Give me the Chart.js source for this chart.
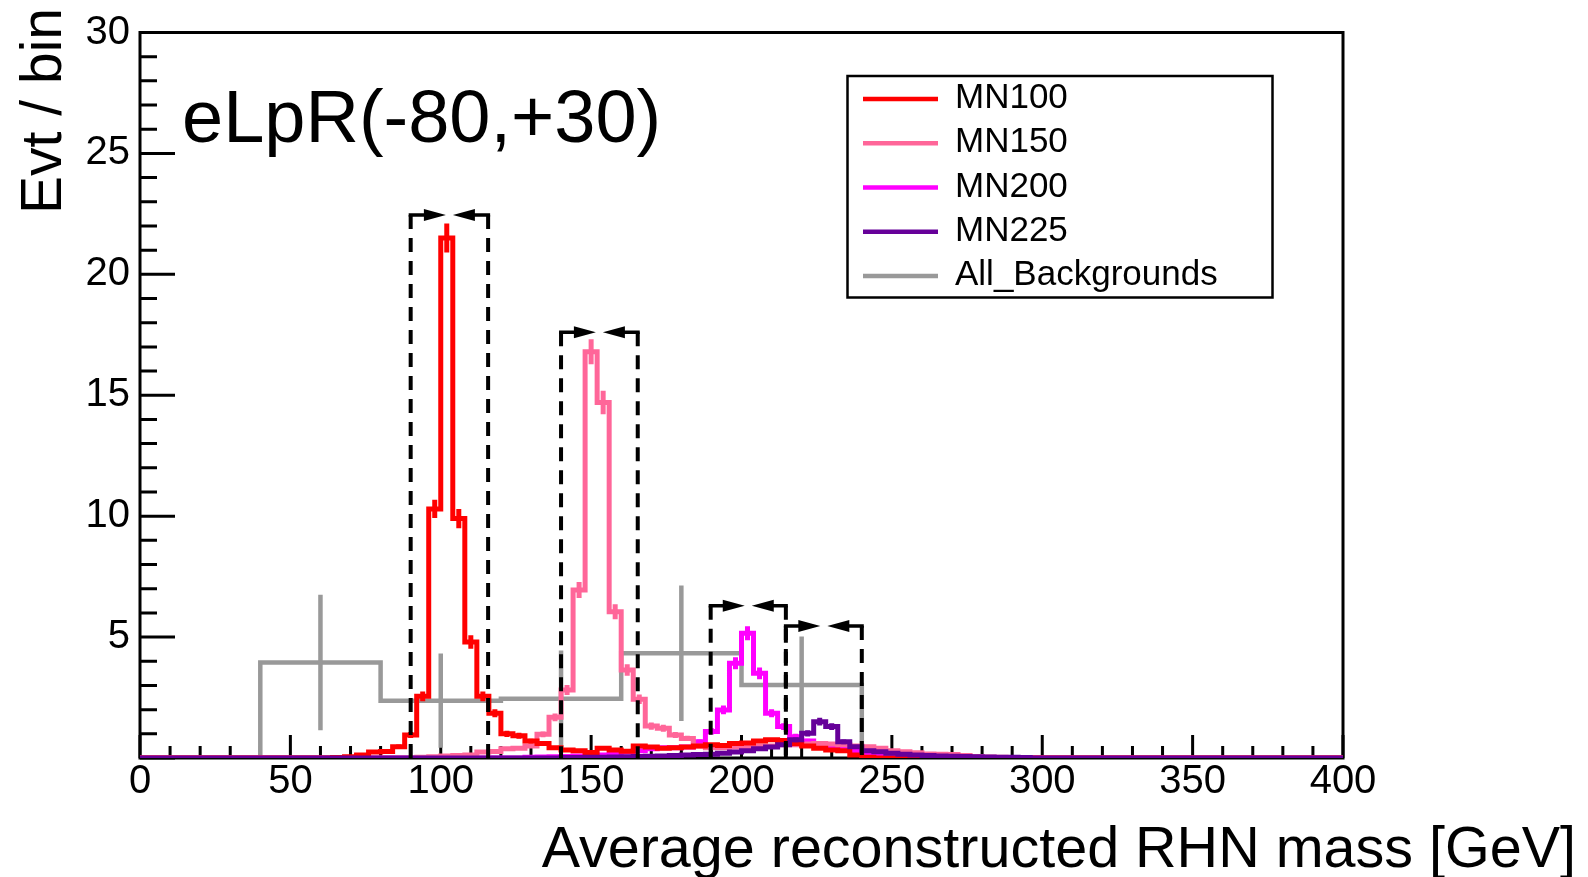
<!DOCTYPE html>
<html>
<head>
<meta charset="utf-8">
<script src="https://cdn.jsdelivr.net/npm/chart.js@4.4.1/dist/chart.umd.min.js"></script>
<style>
html,body{margin:0;padding:0;background:#fff;}
canvas{display:block;}
</style>
</head>
<body>
<canvas id="c" width="1588" height="877"></canvas>
<script>
// ---------------- DATA ----------------
const binWidth = 4;            // GeV, 100 bins over [0,400]
const xMin = 0, xMax = 400;
const yMin = 0, yMax = 30;
const xTickLabels = [0, 50, 100, 150, 200, 250, 300, 350, 400];
const yTickLabels = [5, 10, 15, 20, 25, 30];

const seriesNames = ["MN100", "MN150", "MN200", "MN225", "All_Backgrounds"];

// Events per 4 GeV bin (bin i covers [4i, 4i+4])
const mn100 = [
  0,0,0,0,0,0,0,0,0,0,
  0,0,0,0,0,0,0.02,0.05,0.12,0.25,
  0.27,0.47,0.95,2.55,10.3,21.5,9.9,4.8,2.55,1.85,
  1.0,0.92,0.7,0.6,0.42,0.33,0.3,0.23,0.4,0.33,
  0.28,0.5,0.45,0.4,0.42,0.45,0.5,0.55,0.52,0.6,
  0.62,0.7,0.75,0.72,0.6,0.5,0.4,0.33,0.3,0.12,
  0.03,0,0,0,0,0,0,0,0,0,
  0,0,0,0,0,0,0,0,0,0,
  0,0,0,0,0,0,0,0,0,0,
  0,0,0,0,0,0,0,0,0,0
];
const mn150 = [
  0,0,0,0,0,0,0,0,0,0,
  0,0,0,0,0,0,0,0,0,0,
  0,0,0,0.03,0.05,0.08,0.1,0.12,0.25,0.27,
  0.38,0.4,0.5,0.98,1.68,2.81,6.95,16.8,14.7,6.05,
  3.64,2.43,1.32,1.23,0.95,0.81,0.5,0.42,0.42,0.45,
  0.45,0.5,0.5,0.55,0.55,0.58,0.6,0.58,0.55,0.5,
  0.47,0.4,0.3,0.26,0.22,0.17,0.15,0.14,0.1,0.06,
  0.04,0.03,0.02,0,0,0,0,0,0,0,
  0,0,0,0,0,0,0,0,0,0,
  0,0,0,0,0,0,0,0,0,0
];
const mn200 = [
  0,0,0,0,0,0,0,0,0,0,
  0,0,0,0,0,0,0,0,0,0,
  0,0,0,0,0,0,0,0,0,0,
  0,0,0.03,0.04,0.05,0.06,0.08,0.1,0.12,0.15,
  0.25,0.3,0.38,0.42,0.42,0.45,0.67,1.1,1.99,3.92,
  5.16,3.5,1.85,1.3,0.88,0.7,0.55,0.45,0.38,0.3,
  0.15,0.08,0.05,0.02,0,0,0,0,0,0,
  0,0,0,0,0,0,0,0,0,0,
  0,0,0,0,0,0,0,0,0,0,
  0,0,0,0,0,0,0,0,0,0
];
const mn225 = [
  0,0,0,0,0,0,0,0,0,0,
  0,0,0,0,0,0,0,0,0,0,
  0,0,0,0,0,0,0,0,0,0,
  0,0,0,0,0,0.02,0.02,0.03,0.03,0.04,
  0.05,0.06,0.07,0.08,0.1,0.12,0.14,0.16,0.2,0.25,
  0.3,0.38,0.45,0.55,0.75,1.02,1.5,1.3,0.67,0.47,
  0.3,0.26,0.2,0.15,0.12,0.1,0.08,0.07,0.06,0.05,
  0.04,0.03,0.03,0.02,0,0,0,0,0,0,
  0,0,0,0,0,0,0,0,0,0,
  0,0,0,0,0,0,0,0,0,0
];

// Statistical error bars of the signal bins (first bin index + values)
const mn100ErrStart = 21;
const mn100Err = [0.09,0.12,0.2,0.38,0.6,0.4,0.28,0.2,0.17,0.13,0.12,0.1,0.1];
const mn150ErrStart = 32;
const mn150Err = [0.09,0.12,0.16,0.21,0.33,0.52,0.49,0.31,0.24,0.2,0.15,0.14,0.12,0.11];
const mn200ErrStart = 46;
const mn200Err = [0.1,0.13,0.18,0.25,0.29,0.24,0.17,0.14,0.12,0.1];
const mn225ErrStart = 54;
const mn225Err = [0.1,0.13,0.16,0.14,0.1];

// Background: variable bins
const bgEdges  = [0, 40, 80, 120, 160, 200, 240, 400];
const bgValues = [0, 3.95, 2.37, 2.45, 4.33, 3.02, 0];
const bgErrors = [0, 2.8, 1.95, 2.0, 2.8, 2.0, 0];

// Mass-window cuts (dashed boxes with arrows)
const cutLow  = [90, 140, 189.75, 214.75];
const cutHigh = [115.75, 165.5, 214.75, 240];
const cutTop  = [22.45, 17.6, 6.3, 5.46];

const labelText = "eLpR(-80,+30)";
const xTitle = "Average reconstructed RHN mass [GeV]";
const yTitle = "Evt / bin";

// ---------------- STYLE ----------------
const FONT = '"Liberation Sans", Arial, Helvetica, sans-serif';
const colors = ["#ff0000", "#ff6699", "#ff00ff", "#660099", "#999999"];
const widths = [5, 5, 5, 5, 4.5];

// ---------------- BUILD ----------------
const uniformEdges = [];
for (let i = 0; i <= mn100.length; i++) uniformEdges.push(xMin + i * binWidth);

function histPoints(edges, values) {
  const pts = values.map((v, i) => ({x: edges[i], y: v}));
  pts.push({x: edges[edges.length - 1], y: values[values.length - 1]});
  return pts;
}
function errList(edges, values, start, errs) {
  const out = [];
  errs.forEach((e, k) => {
    const i = start + k;
    out.push({x: (edges[i] + edges[i + 1]) / 2, y: values[i], e: e});
  });
  return out;
}
const bgErrList = [];
bgValues.forEach((v, i) => { if (bgErrors[i] > 0) bgErrList.push({x: (bgEdges[i] + bgEdges[i+1]) / 2, y: v, e: bgErrors[i]}); });

const errorBars = [
  errList(uniformEdges, mn100, mn100ErrStart, mn100Err),
  errList(uniformEdges, mn150, mn150ErrStart, mn150Err),
  errList(uniformEdges, mn200, mn200ErrStart, mn200Err),
  errList(uniformEdges, mn225, mn225ErrStart, mn225Err),
  bgErrList
];

const seriesData = [
  histPoints(uniformEdges, mn100),
  histPoints(uniformEdges, mn150),
  histPoints(uniformEdges, mn200),
  histPoints(uniformEdges, mn225),
  histPoints(bgEdges, bgValues)
];
// draw order: background first, MN225 last (on top)
const drawOrder = [2, 3, 4, 1, 5];

const datasets = seriesNames.map((name, i) => ({
  label: name,
  data: seriesData[i],
  borderColor: colors[i],
  borderWidth: widths[i],
  stepped: 'before',
  pointRadius: 0,
  pointHoverRadius: 0,
  fill: false,
  tension: 0,
  borderJoinStyle: 'miter',
  borderCapStyle: 'butt',
  order: drawOrder[i]
}));

const rootPlugin = {
  id: 'rootStyle',
  beforeDatasetsDraw(chart) {
    const {ctx, chartArea: a, scales: {x, y}} = chart;
    ctx.save();
    ctx.strokeStyle = '#000';
    ctx.lineWidth = 3;
    ctx.strokeRect(a.left, a.top, a.right - a.left, a.bottom - a.top);
    ctx.lineWidth = 3;
    ctx.beginPath();
    for (let v = xMin; v <= xMax; v += 10) {
      const px = x.getPixelForValue(v);
      const len = (v % 50 === 0) ? 23 : 12;
      ctx.moveTo(px, a.bottom); ctx.lineTo(px, a.bottom - len);
    }
    for (let v = yMin; v <= yMax; v += 1) {
      const py = y.getPixelForValue(v);
      const len = (v % 5 === 0) ? 35 : 17;
      ctx.moveTo(a.left, py); ctx.lineTo(a.left + len, py);
    }
    ctx.stroke();
    ctx.restore();
  },
  afterDatasetDraw(chart, args) {
    const i = args.index;
    const bars = errorBars[i];
    if (!bars || !bars.length) return;
    const {ctx, chartArea: a, scales: {x, y}} = chart;
    ctx.save();
    ctx.beginPath();
    ctx.rect(a.left, a.top, a.right - a.left, a.bottom - a.top + 2);
    ctx.clip();
    ctx.strokeStyle = colors[i];
    ctx.lineWidth = widths[i];
    ctx.lineCap = 'butt';
    ctx.beginPath();
    bars.forEach(b => {
      const px = x.getPixelForValue(b.x);
      ctx.moveTo(px, y.getPixelForValue(Math.max(0, b.y - b.e)));
      ctx.lineTo(px, y.getPixelForValue(b.y + b.e));
    });
    ctx.stroke();
    ctx.restore();
  },
  afterDatasetsDraw(chart) {
    const {ctx, scales: {x, y}} = chart;
    ctx.save();
    ctx.strokeStyle = '#000';
    ctx.fillStyle = '#000';
    cutLow.forEach((lo, k) => {
      const x1 = x.getPixelForValue(lo), x2 = x.getPixelForValue(cutHigh[k]);
      const yt = y.getPixelForValue(cutTop[k]), yb = y.getPixelForValue(0);
      ctx.lineWidth = 4;
      ctx.setLineDash([14, 9]);
      ctx.beginPath();
      ctx.moveTo(x1, yt); ctx.lineTo(x1, yb);
      ctx.moveTo(x2, yt); ctx.lineTo(x2, yb);
      ctx.stroke();
      ctx.setLineDash([]);
      const xc = (x1 + x2) / 2, gap = 3.5, head = 22, hw = 6;
      const tipL = xc - gap, tipR = xc + gap;
      ctx.lineWidth = 3.5;
      ctx.beginPath();
      ctx.moveTo(x1 - 2, yt); ctx.lineTo(tipL - head + 2, yt);
      ctx.moveTo(x2 + 2, yt); ctx.lineTo(tipR + head - 2, yt);
      ctx.stroke();
      ctx.beginPath();
      ctx.moveTo(tipL, yt); ctx.lineTo(tipL - head, yt - hw); ctx.lineTo(tipL - head, yt + hw); ctx.closePath();
      ctx.moveTo(tipR, yt); ctx.lineTo(tipR + head, yt - hw); ctx.lineTo(tipR + head, yt + hw); ctx.closePath();
      ctx.fill();
    });
    ctx.restore();
  },
  afterDraw(chart) {
    const {ctx} = chart;
    ctx.save();
    // Legend box
    const lx = 847.5, ly = 76, lw = 425, lh = 221.5;
    ctx.fillStyle = '#fff';
    ctx.fillRect(lx, ly, lw, lh);
    ctx.strokeStyle = '#000';
    ctx.lineWidth = 2.5;
    ctx.strokeRect(lx, ly, lw, lh);
    ctx.font = '35px ' + FONT;
    ctx.textAlign = 'left';
    ctx.textBaseline = 'alphabetic';
    seriesNames.forEach((name, i) => {
      const yy = 99 + i * 44.25;
      ctx.strokeStyle = colors[i];
      ctx.lineWidth = 4.5;
      ctx.beginPath();
      ctx.moveTo(863, yy); ctx.lineTo(938, yy);
      ctx.stroke();
      ctx.fillStyle = '#000';
      ctx.fillText(name, 955, yy + 9);
    });
    // Label
    ctx.fillStyle = '#000';
    ctx.font = '74px ' + FONT;
    ctx.fillText(labelText, 182, 142);
    // X title
    ctx.font = '57.5px ' + FONT;
    ctx.textAlign = 'right';
    ctx.fillText(xTitle, 1576, 867);
    // Y title
    ctx.save();
    ctx.translate(61, 8);
    ctx.rotate(-Math.PI / 2);
    ctx.font = '57px ' + FONT;
    ctx.textAlign = 'right';
    ctx.fillText(yTitle, 0, 0);
    ctx.restore();
    ctx.restore();
  }
};

Chart.defaults.font.family = FONT;
Chart.defaults.color = '#000';

new Chart(document.getElementById('c'), {
  type: 'line',
  data: { datasets },
  options: {
    responsive: false,
    animation: false,
    devicePixelRatio: 1,
    layout: { padding: { left: 0, right: 245, top: 32.5, bottom: 0 } },
    elements: { line: { borderWidth: 5 } },
    plugins: { legend: { display: false }, tooltip: { enabled: false } },
    scales: {
      x: {
        type: 'linear', min: xMin, max: xMax,
        grid: { display: false, drawTicks: false },
        border: { display: false },
        ticks: {
          stepSize: 50, padding: 4, autoSkip: false, maxRotation: 0,
          font: { size: 40, lineHeight: 1 }, color: '#000',
          callback: v => xTickLabels.includes(v) ? String(v) : ''
        },
        afterFit: s => { s.height = 119; }
      },
      y: {
        type: 'linear', min: yMin, max: yMax,
        grid: { display: false, drawTicks: false },
        border: { display: false },
        ticks: {
          stepSize: 5, padding: 10, autoSkip: false,
          font: { size: 40, lineHeight: 1 }, color: '#000',
          callback: v => yTickLabels.includes(v) ? String(v) : ''
        },
        afterFit: s => { s.width = 140; }
      }
    }
  },
  plugins: [rootPlugin]
});
</script>
</body>
</html>
